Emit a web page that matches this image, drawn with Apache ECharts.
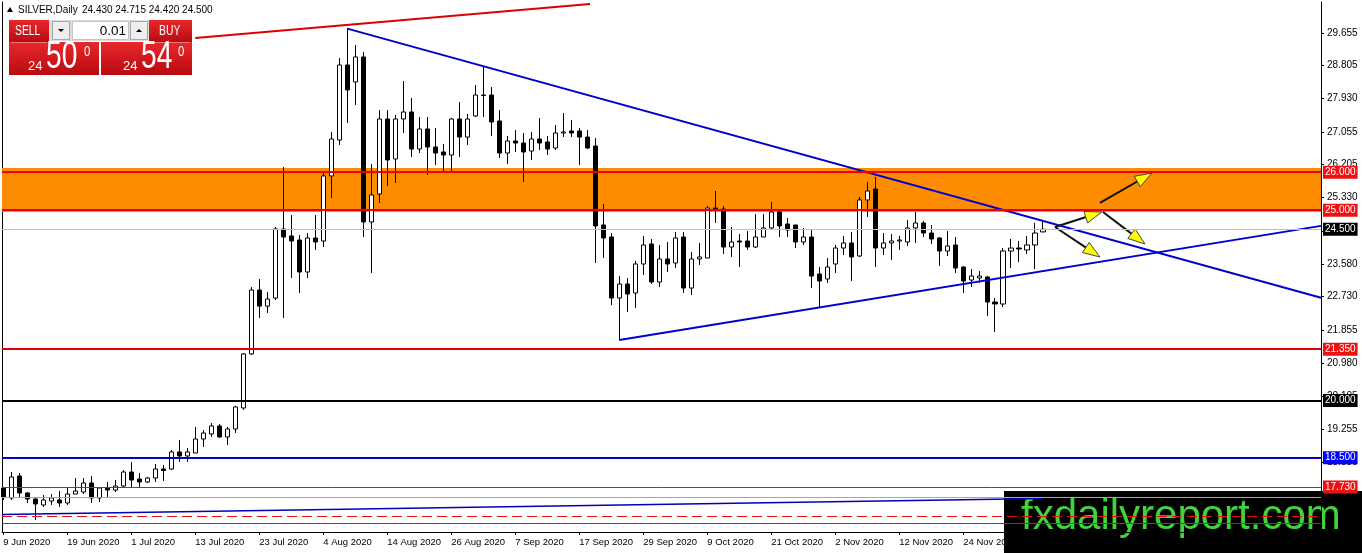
<!DOCTYPE html>
<html><head><meta charset="utf-8">
<script src="https://cdn.jsdelivr.net/npm/echarts@6/dist/echarts.min.js"></script>
<style>html,body{margin:0;padding:0;background:#fff}#c{width:1362px;height:553px}</style>
</head><body><div id="c"></div>
<script>
// ---------- DATA ----------
const dates = [
'9 Jun 2020','10 Jun 2020','11 Jun 2020','12 Jun 2020','15 Jun 2020','16 Jun 2020','17 Jun 2020','18 Jun 2020','19 Jun 2020','22 Jun 2020','23 Jun 2020','24 Jun 2020','25 Jun 2020','26 Jun 2020','29 Jun 2020','30 Jun 2020',
'1 Jul 2020','2 Jul 2020','3 Jul 2020','6 Jul 2020','7 Jul 2020','8 Jul 2020','9 Jul 2020','10 Jul 2020','13 Jul 2020','14 Jul 2020','15 Jul 2020','16 Jul 2020','17 Jul 2020','20 Jul 2020','21 Jul 2020','22 Jul 2020','23 Jul 2020','24 Jul 2020','27 Jul 2020','28 Jul 2020','29 Jul 2020','30 Jul 2020','31 Jul 2020',
'3 Aug 2020','4 Aug 2020','5 Aug 2020','6 Aug 2020','7 Aug 2020','10 Aug 2020','11 Aug 2020','12 Aug 2020','13 Aug 2020','14 Aug 2020','17 Aug 2020','18 Aug 2020','19 Aug 2020','20 Aug 2020','21 Aug 2020','24 Aug 2020','25 Aug 2020','26 Aug 2020','27 Aug 2020','28 Aug 2020','31 Aug 2020',
'1 Sep 2020','2 Sep 2020','3 Sep 2020','4 Sep 2020','7 Sep 2020','8 Sep 2020','9 Sep 2020','10 Sep 2020','11 Sep 2020','14 Sep 2020','15 Sep 2020','16 Sep 2020','17 Sep 2020','18 Sep 2020','21 Sep 2020','22 Sep 2020','23 Sep 2020','24 Sep 2020','25 Sep 2020','28 Sep 2020','29 Sep 2020','30 Sep 2020',
'1 Oct 2020','2 Oct 2020','5 Oct 2020','6 Oct 2020','7 Oct 2020','8 Oct 2020','9 Oct 2020','12 Oct 2020','13 Oct 2020','14 Oct 2020','15 Oct 2020','16 Oct 2020','19 Oct 2020','20 Oct 2020','21 Oct 2020','22 Oct 2020','23 Oct 2020','26 Oct 2020','27 Oct 2020','28 Oct 2020','29 Oct 2020','30 Oct 2020',
'2 Nov 2020','3 Nov 2020','4 Nov 2020','5 Nov 2020','6 Nov 2020','9 Nov 2020','10 Nov 2020','11 Nov 2020','12 Nov 2020','13 Nov 2020','16 Nov 2020','17 Nov 2020','18 Nov 2020','19 Nov 2020','20 Nov 2020','23 Nov 2020','24 Nov 2020','25 Nov 2020','26 Nov 2020','27 Nov 2020','30 Nov 2020',
'1 Dec 2020','2 Dec 2020','3 Dec 2020','4 Dec 2020','7 Dec 2020','8 Dec 2020'];

const opens = [17.703,17.441,18.018,17.572,17.414,17.257,17.362,17.388,17.309,17.545,17.598,17.834,17.441,17.703,17.650,17.755,18.123,17.939,17.861,17.966,
18.202,18.202,18.649,18.544,18.622,18.990,19.122,19.332,19.043,19.253,19.805,21.224,22.903,22.481,22.693,24.507,24.323,24.217,23.377,24.270,
24.191,25.899,26.844,28.814,28.368,29.025,24.691,25.426,27.396,26.345,27.396,27.580,26.607,27.133,26.660,26.529,26.450,27.396,26.922,27.475,
28.026,28.026,27.343,26.502,26.818,26.765,26.555,26.870,26.792,26.634,27.028,27.081,27.081,26.922,26.686,24.612,24.296,22.693,23.061,22.825,
23.587,24.112,23.114,23.718,23.613,24.296,22.956,23.718,23.744,25.058,25.032,24.033,24.191,24.191,24.033,24.296,24.533,24.953,24.638,24.612,
24.165,24.296,23.324,23.193,23.587,24.007,24.139,23.797,25.268,25.557,24.007,24.139,24.191,24.165,24.533,24.664,24.401,24.270,23.928,24.086,
23.508,23.166,23.219,23.245,22.588,22.536,23.928,24.007,23.955,24.086,24.430];
const closes = [17.467,17.992,17.572,17.414,17.283,17.388,17.441,17.309,17.545,17.624,17.834,17.441,17.703,17.650,17.755,18.123,17.913,17.861,17.966,18.202,
18.163,18.649,18.544,18.649,18.990,19.148,19.332,19.043,19.253,19.831,21.224,22.903,22.481,22.667,24.507,24.296,24.191,23.377,24.270,24.165,
25.899,26.870,28.814,28.158,29.025,24.691,25.400,27.396,26.319,27.396,27.580,26.607,27.133,26.660,26.502,26.450,27.396,26.922,27.396,28.026,
28.013,27.317,26.502,26.818,26.765,26.529,26.870,26.765,26.607,27.028,27.054,27.028,26.922,26.634,24.585,24.270,22.693,23.061,22.798,23.587,
24.086,23.114,23.718,23.587,24.270,22.956,23.718,23.771,25.058,25.005,24.033,24.165,24.165,24.033,24.296,24.533,24.953,24.585,24.480,24.165,
24.296,23.271,23.140,23.508,24.007,24.139,23.771,25.268,25.505,24.007,24.139,24.191,24.217,24.533,24.664,24.401,24.244,23.928,24.060,23.482,
23.140,23.271,23.271,22.588,22.536,23.928,24.007,23.981,24.086,24.401,24.500];
const lows = [17.388,17.388,17.441,17.309,16.863,17.204,17.257,17.204,17.257,17.545,17.545,17.309,17.336,17.441,17.598,17.729,17.729,17.703,17.834,17.861,
17.887,18.176,18.386,18.386,18.622,18.780,19.043,19.017,18.833,19.148,19.752,21.197,22.169,22.300,22.641,22.169,23.219,22.825,23.219,23.955,
24.033,25.321,26.713,27.291,27.764,24.296,23.350,25.189,25.636,25.715,27.028,26.397,26.502,25.925,26.188,26.004,26.004,26.397,26.713,27.449,
27.449,26.949,26.371,26.214,26.529,25.741,26.319,26.581,26.450,26.581,26.922,26.922,26.188,26.607,23.613,23.744,22.507,21.591,22.326,22.431,
23.298,23.061,22.982,23.377,23.482,22.825,22.772,23.560,23.744,24.664,23.849,23.771,23.508,23.955,24.007,24.296,24.480,24.296,24.296,24.007,
24.086,22.956,22.457,23.087,23.350,23.823,23.140,23.771,24.822,23.508,23.823,23.692,23.955,24.060,24.139,24.296,24.112,23.534,23.797,23.350,
22.825,22.982,23.087,22.221,21.801,22.457,23.482,23.639,23.849,23.455,24.420];
const highs = [17.729,18.123,18.097,17.598,17.467,17.519,17.545,17.624,17.729,17.966,17.966,18.018,17.729,17.861,17.913,18.176,18.386,18.097,17.992,18.334,
18.307,18.701,18.964,18.754,19.306,19.227,19.411,19.384,19.306,19.858,21.250,22.982,23.193,22.851,24.559,26.135,24.874,24.349,24.401,24.874,
25.978,27.054,28.998,29.786,29.340,29.156,26.214,27.632,27.632,27.501,28.394,27.948,27.449,27.449,27.160,26.739,27.422,27.843,27.527,28.289,
28.762,28.237,27.632,26.949,27.107,27.028,27.054,27.422,26.949,27.238,27.554,27.370,27.160,27.107,26.896,25.163,24.401,23.271,23.219,23.665,
24.323,24.244,24.086,24.165,24.428,24.428,23.902,24.139,25.111,25.505,25.111,24.559,24.375,24.454,24.901,24.901,25.216,25.005,24.796,24.612,
24.533,24.507,23.508,23.744,24.086,24.323,24.428,25.347,25.741,25.873,24.401,24.375,24.323,24.743,24.953,24.717,24.612,24.296,24.454,24.296,
23.534,23.455,23.403,23.271,22.693,24.007,24.244,24.191,24.323,24.664,24.715];

const priceTicks = [29.655,28.805,27.930,27.055,26.205,25.330,24.455,23.580,22.730,21.855,20.980,20.105,19.255,18.380,17.505];
const dateTicks = ['9 Jun 2020','19 Jun 2020','1 Jul 2020','13 Jul 2020','23 Jul 2020','4 Aug 2020','14 Aug 2020','26 Aug 2020','7 Sep 2020','17 Sep 2020','29 Sep 2020','9 Oct 2020','21 Oct 2020','2 Nov 2020','12 Nov 2020','24 Nov 2020','4 Dec 2020'];

// labelled horizontal levels
const levelPrices = [26.000, 25.000, 24.500, 21.350, 20.000, 18.500, 17.730];
// unlabelled horizontal lines at the bottom
const extraLinePrices = [17.467, 16.968, 16.784];
// orange zone
const zoneRange = [24.953, 26.109];
// trend lines: [barIndex, price]
const upperRedLine = [[24, 29.523], [73.34, 30.416]];
const resistanceLine = [[43, 29.77], [164.72, 22.698]];
const supportLine = [[77, 21.59], [164.72, 24.588]];
const slowAverage = [[-0.16, 17.007], [130, 17.43]];
// arrows: [fromIndex, fromPrice, toIndex, toPrice]
const arrows = [
  [131.47, 24.559, 137.34, 24.953],
  [131.47, 24.559, 137.09, 23.771],
  [137.47, 24.953, 142.72, 24.112],
  [137.09, 25.190, 143.59, 25.977]
];

// ---------- STYLE ----------
const X_MIN = -0.16, X_MAX = 164.72, Y_MIN = 16.547, Y_MAX = 30.469;
const FONT = 'Liberation Sans';
const levelStyle = [
  {line:'#ee0000', w:2, bg:'#ee1111'},
  {line:'#ee0000', w:2, bg:'#ee1111'},
  {line:'#c0c0c0', w:1, bg:'#000000'},
  {line:'#e00000', w:2, bg:'#ee1111'},
  {line:'#000000', w:2, bg:'#000000'},
  {line:'#0000dd', w:2, bg:'#0000ff'},
  {line:'#e41010', w:1, bg:'#ee1111'}
];
const extraStyle = [
  {color:'#e0a800', width:1, type:'solid'},
  {color:'#e41010', width:1, type:[10,5]},
  {color:'#e41010', width:1, type:'solid'}
];

const candleData = opens.map((o, i) => [i, o, closes[i], lows[i], highs[i]]);
const dateTickIdx = dateTicks.map(d => dates.indexOf(d));

const markLineData = levelPrices.map((p, k) => ({
  yAxis: p,
  lineStyle: {color: levelStyle[k].line, width: levelStyle[k].w, type: 'solid'},
  label: {show: true, position: 'end', distance: 2, formatter: p.toFixed(3),
    backgroundColor: levelStyle[k].bg, color: '#fff', padding: [2, 2, 1, 2],
    fontSize: 10, fontFamily: FONT}
})).concat(extraLinePrices.map((p, k) => ({
  yAxis: p,
  lineStyle: extraStyle[k],
  label: {show: false}
})));

const red = {type:'linear', x:0, y:0, x2:0, y2:1, colorStops:[{offset:0, color:'#e8282c'}, {offset:1, color:'#b80b10'}]};
function txt(x, y, text, size, opts) {
  opts = opts || {};
  return {type: 'text', x: x, y: y, scaleX: opts.sx || 1, originX: 0, originY: 0,
    style: {text: text, font: size + 'px "Liberation Sans"', fill: opts.fill || '#fff',
      align: opts.align || 'left', verticalAlign: 'middle'}};
}

const chart = echarts.init(document.getElementById('c'));
chart.setOption({
  animation: false,
  backgroundColor: '#fff',
  grid: {left: 2, right: 41, top: 2, bottom: 21, containLabel: false, outerBoundsMode: 'none'},
  xAxis: {
    type: 'value', min: X_MIN, max: X_MAX, position: 'bottom',
    axisLine: {show: true, onZero: false, lineStyle: {color: '#000', width: 1}},
    axisTick: {show: true, customValues: dateTickIdx, length: 3, lineStyle: {color: '#000'}},
    axisLabel: {customValues: dateTickIdx, formatter: v => dates[Math.round(v)] || '', align: 'left',
      margin: 5, fontSize: 9.5, color: '#000', fontFamily: FONT},
    splitLine: {show: false}
  },
  yAxis: [{
    type: 'value', position: 'right', min: Y_MIN, max: Y_MAX,
    axisLine: {show: true, onZero: false, lineStyle: {color: '#000', width: 1}},
    axisTick: {show: true, customValues: priceTicks, length: 3, lineStyle: {color: '#000'}},
    axisLabel: {customValues: priceTicks, formatter: v => v.toFixed(3), margin: 6,
      fontSize: 10, color: '#000', fontFamily: FONT},
    splitLine: {show: false}
  }, {
    type: 'value', position: 'left', min: Y_MIN, max: Y_MAX,
    axisLine: {show: true, onZero: false, lineStyle: {color: '#000', width: 1}},
    axisTick: {show: false}, axisLabel: {show: false}, splitLine: {show: false}
  }],
  series: [
    {
      type: 'custom', z: 1, silent: true,
      data: [[0, zoneRange[0], zoneRange[1]]],
      encode: {x: 0, y: [1, 2]},
      renderItem: (params, api) => {
        const cs = params.coordSys;
        const yTop = api.coord([0, api.value(2)])[1];
        const yBot = api.coord([0, api.value(1)])[1];
        return {type: 'rect', shape: {x: cs.x, y: yTop, width: cs.width, height: yBot - yTop},
          style: {fill: '#ff8c00'}};
      }
    },
    {
      type: 'candlestick', z: 2, silent: true,
      data: candleData,
      encode: {x: 0, y: [1, 2, 3, 4]},
      barWidth: 5,
      clip: true,
      itemStyle: {color: '#ffffff', color0: '#000000', borderColor: '#000000', borderColor0: '#000000', borderWidth: 1}
    },
    {
      type: 'line', z: 3, silent: true, symbol: 'none', clip: true,
      data: resistanceLine,
      lineStyle: {color: '#0000cc', width: 2},
      markLine: {symbol: ['none', 'none'], silent: true, animation: false, data: markLineData}
    },
    {
      type: 'line', z: 3, silent: true, symbol: 'none', clip: true,
      data: supportLine, lineStyle: {color: '#0000cc', width: 2}
    },
    {
      type: 'line', z: 3, silent: true, symbol: 'none', clip: true,
      data: upperRedLine, lineStyle: {color: '#dd0000', width: 2}
    },
    {
      type: 'line', z: 3, silent: true, symbol: 'none', clip: true,
      data: slowAverage, lineStyle: {color: '#0000bb', width: 1.5}
    },
    {
      type: 'custom', z: 4, silent: true,
      data: arrows,
      encode: {x: [0, 2], y: [1, 3]},
      renderItem: (params, api) => {
        const p1 = api.coord([api.value(0), api.value(1)]);
        const p2 = api.coord([api.value(2), api.value(3)]);
        const dx = p2[0] - p1[0], dy = p2[1] - p1[1];
        const len = Math.hypot(dx, dy), ux = dx / len, uy = dy / len;
        const hl = 17, hw = 6;
        const bx = p2[0] - ux * hl, by = p2[1] - uy * hl;
        return {type: 'group', children: [
          {type: 'line', shape: {x1: p1[0], y1: p1[1], x2: bx + ux * 2, y2: by + uy * 2}, style: {stroke: '#111', lineWidth: 2}},
          {type: 'polygon', shape: {points: [[p2[0], p2[1]], [bx - uy * hw, by + ux * hw], [bx + uy * hw, by - ux * hw]]},
            style: {fill: '#ffff00', stroke: '#444', lineWidth: 1}}
        ]};
      }
    }
  ],
  graphic: [
    // header
    {type: 'polygon', shape: {points: [[7, 12], [13, 12], [10, 7]]}, style: {fill: '#000'}},
    txt(18, 10, 'SILVER,Daily', 10, {fill: '#000'}),
    txt(82, 10, '24.430 24.715 24.420 24.500', 10, {fill: '#000'}),
    // sell / buy panel
    {type: 'rect', shape: {x: 9, y: 20, width: 40, height: 22}, style: {fill: red}},
    {type: 'rect', shape: {x: 9, y: 42, width: 90, height: 33}, style: {fill: red}},
    {type: 'rect', shape: {x: 149, y: 20, width: 43, height: 22}, style: {fill: red}},
    {type: 'rect', shape: {x: 101, y: 42, width: 91, height: 33}, style: {fill: red}},
    {type: 'line', shape: {x1: 11, y1: 42.5, x2: 47, y2: 42.5}, style: {stroke: '#f27a7a', lineWidth: 1}},
    {type: 'line', shape: {x1: 151, y1: 42.5, x2: 190, y2: 42.5}, style: {stroke: '#f27a7a', lineWidth: 1}},
    {type: 'rect', shape: {x: 49, y: 20, width: 100, height: 21}, style: {fill: '#dcdcdc'}},
    {type: 'rect', shape: {x: 52.5, y: 21.5, width: 17, height: 18}, style: {fill: '#eeeeee', stroke: '#a8a8a8'}},
    {type: 'rect', shape: {x: 72.5, y: 21.5, width: 56, height: 18}, style: {fill: '#ffffff', stroke: '#c4c4c4'}},
    {type: 'rect', shape: {x: 130.5, y: 21.5, width: 17, height: 18}, style: {fill: '#eeeeee', stroke: '#a8a8a8'}},
    {type: 'polygon', shape: {points: [[58, 29], [64, 29], [61, 32]]}, style: {fill: '#000'}},
    {type: 'polygon', shape: {points: [[136, 32], [142, 32], [139, 29]]}, style: {fill: '#000'}},
    txt(126, 31, '0.01', 13.5, {fill: '#000', align: 'right'}),
    txt(15, 31.5, 'SELL', 14, {sx: 0.74}),
    txt(159, 31.5, 'BUY', 14, {sx: 0.74}),
    txt(28, 66.5, '24', 13),
    txt(46, 57.5, '50', 38, {sx: 0.74}),
    txt(84, 52, '0', 15, {sx: 0.75}),
    txt(123, 66.5, '24', 13),
    txt(141, 57.5, '54', 38, {sx: 0.74}),
    txt(178, 52, '0', 15, {sx: 0.75}),
    // watermark box
    {type: 'rect', shape: {x: 1004, y: 491, width: 358, height: 62}, style: {fill: '#000'}},
    txt(1021, 517.5, 'fxdailyreport.com', 42, {fill: '#3fd43a'})
  ]
});
</script>
</body></html>
